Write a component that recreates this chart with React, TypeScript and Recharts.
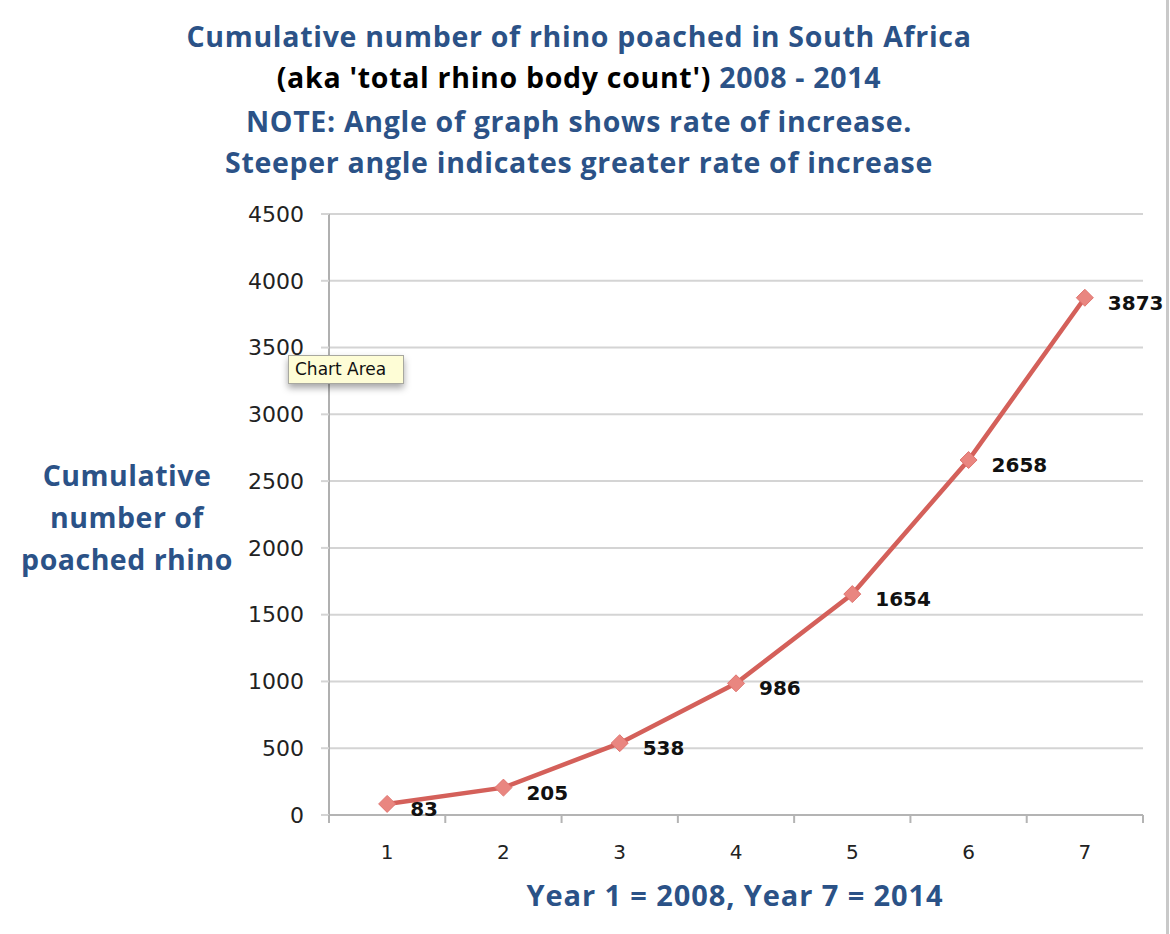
import React from 'react';
import { LineChart, Line, XAxis, YAxis, CartesianGrid } from 'recharts';

const years = [1, 2, 3, 4, 5, 6, 7];
const poached = [83, 205, 538, 986, 1654, 2658, 3873];
const yTicks = [0, 500, 1000, 1500, 2000, 2500, 3000, 3500, 4000, 4500];
const xTicks = [0.5, 1, 1.5, 2, 2.5, 3, 3.5, 4, 4.5, 5, 5.5, 6, 6.5, 7, 7.5];
const titleLine1 = 'Cumulative number of rhino poached in South Africa';
const titleLine2a = "(aka 'total rhino body count')";
const titleLine2b = '2008 - 2014';
const titleLine3 = 'NOTE: Angle of graph shows rate of increase.';
const titleLine4 = 'Steeper angle indicates greater rate of increase';
const yLabelLines = ['Cumulative', 'number of', 'poached rhino'];
const xLabel = 'Year 1 = 2008, Year 7 = 2014';

const data = years.map((y, i) => ({ year: y, value: poached[i] }));

const BLUE = '#2b5287';
const CAL = "'Open Sans', Lato, sans-serif";
const LUC = "'DejaVu Sans', sans-serif";

const Diamond = (p: any) => {
  const { cx, cy, index } = p;
  if (cx == null || cy == null) return <g key={index} />;
  const r = 8.5;
  return (
    <path
      key={index}
      d={`M${cx},${cy - r} L${cx + r},${cy} L${cx},${cy + r} L${cx - r},${cy} Z`}
      fill="#e98680"
      stroke="#e07570"
      strokeWidth={1}
    />
  );
};

const ValueLabel = (p: any) => {
  const { x, y, value, index } = p;
  return (
    <text
      key={index}
      x={x + 23}
      y={y + 5}
      dominantBaseline="central"
      fontFamily={LUC}
      fontWeight="bold"
      fontSize={20}
      fill="#111"
    >
      {value}
    </text>
  );
};

const XTick = (p: any) => {
  const { x, y, payload } = p;
  const v = payload.value;
  if (Number.isInteger(v)) {
    return (
      <text x={x} y={y + 37} textAnchor="middle" dominantBaseline="central" fontFamily={LUC} fontSize={20} fill="#222">
        {v}
      </text>
    );
  }
  return <line x1={x} y1={y} x2={x} y2={y + 8} stroke="#b4b4b4" strokeWidth={2} />;
};

export default function App() {
  return (
    <div style={{ position: 'absolute', left: 0, top: 0, width: 1170, height: 934, background: '#fff', overflow: 'hidden' }}>
      <div style={{ position: 'absolute', left: 0, top: 0, width: 1170, textAlign: 'center', fontFamily: CAL, fontWeight: 700, fontSize: 28.5, letterSpacing: '0.7px', color: BLUE }}>
        <div style={{ position: 'absolute', left: 0, width: 1158, top: 16, lineHeight: '40px' }}>{titleLine1}</div>
        <div style={{ position: 'absolute', left: 0, width: 1158, top: 57, lineHeight: '40px' }}>
          <span style={{ color: '#000' }}>{titleLine2a}</span> {titleLine2b}
        </div>
        <div style={{ position: 'absolute', left: 0, width: 1158, top: 101, lineHeight: '40px' }}>{titleLine3}</div>
        <div style={{ position: 'absolute', left: 0, width: 1158, top: 142, lineHeight: '40px' }}>{titleLine4}</div>
      </div>
      <div style={{ position: 'absolute', left: 0, top: 0 }}>
        <LineChart width={1170} height={934} data={data} margin={{ top: 214, right: 27, bottom: 0, left: 249 }}>
          <CartesianGrid horizontal={true} vertical={false} stroke="#d4d4d4" strokeWidth={2} />
          <XAxis
            dataKey="year"
            type="number"
            domain={[0.5, 7.5]}
            ticks={xTicks}
            interval={0}
            height={119}
            tickSize={0}
            tickMargin={0}
            tickLine={false}
            axisLine={{ stroke: '#b4b4b4', strokeWidth: 2 }}
            tick={<XTick />}
            allowDataOverflow
          />
          <YAxis
            type="number"
            domain={[0, 4500]}
            ticks={yTicks}
            interval={0}
            width={80}
            tickSize={8}
            tickMargin={17}
            tickLine={{ stroke: '#d4d4d4', strokeWidth: 2 }}
            axisLine={{ stroke: '#b0b0b0', strokeWidth: 2 }}
            tick={{ fontFamily: LUC, fontSize: 22, fill: '#222' }}
          />
          <Line
            type="linear"
            dataKey="value"
            stroke="#d4605a"
            strokeWidth={4.5}
            isAnimationActive={false}
            dot={Diamond}
            activeDot={false}
            label={ValueLabel}
          />
        </LineChart>
      </div>
      <div style={{ position: 'absolute', left: 0, width: 254, top: 454, textAlign: 'center', fontFamily: CAL, fontWeight: 700, fontSize: 28.5, letterSpacing: '0.5px', lineHeight: '42px', color: BLUE }}>
        {yLabelLines.map((l) => (
          <div key={l}>{l}</div>
        ))}
      </div>
      <div style={{ position: 'absolute', left: 435, width: 600, top: 875, textAlign: 'center', fontFamily: CAL, fontWeight: 700, fontSize: 29, letterSpacing: '0.9px', lineHeight: '40px', color: BLUE }}>
        {xLabel}
      </div>
      <div style={{ position: 'absolute', left: 1166, top: 0, width: 3, height: 934, background: '#c9c9c9' }} />
      <div
        style={{
          position: 'absolute',
          left: 288,
          top: 355,
          width: 116,
          height: 29,
          boxSizing: 'border-box',
          background: '#fefdd6',
          border: '1px solid #a8a8a0',
          boxShadow: '0 4px 7px rgba(0,0,0,0.35)',
          fontFamily: LUC,
          fontSize: 17,
          lineHeight: '27px',
          paddingLeft: 6,
          color: '#111',
          whiteSpace: 'nowrap',
        }}
      >
        Chart Area
      </div>
    </div>
  );
}
